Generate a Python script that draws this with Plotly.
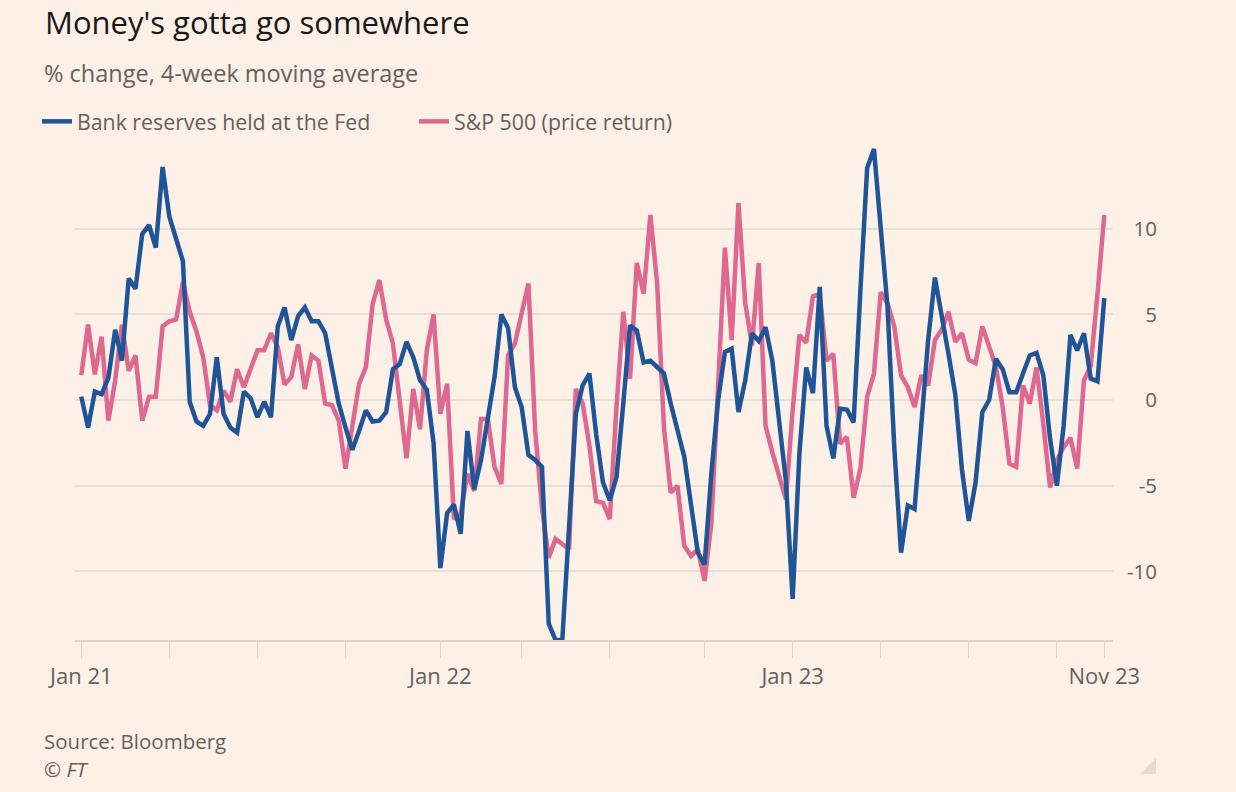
import pandas as pd
import plotly.graph_objects as go

# ---------------- data (weekly, % change, 4-week moving average) ----------------
start_date = "2021-01-01"

reserves_2021 = [0.2, -1.6, 0.5, 0.35, 1.3, 4.1, 2.3, 7.1, 6.5, 9.7, 10.2, 8.9, 13.6,
                 10.7, 9.4, 8.1, -0.1, -1.25, -1.5, -0.8, 2.5, -0.8, -1.6, -1.9, 0.5,
                 0.1, -1.0, -0.1, -1.0, 4.3, 5.4, 3.5, 4.9, 5.4, 4.6, 4.6, 3.9, 1.9,
                 -0.2, -1.6, -2.9, -1.8, -0.6, -1.25, -1.2, -0.7, 1.8, 2.1, 3.4, 2.5,
                 1.15, 0.6, -2.5]
reserves_2022 = [-9.8, -6.6, -6.1, -7.8, -1.8, -5.2, -3.5, -1.0, 1.35, 5.0, 4.2, 0.75,
                 -0.4, -3.2, -3.5, -3.9, -13.05, -14.0, -14.0, -7.4, -0.8, 0.85, 1.55,
                 -2.0, -4.8, -5.85, -4.5, -0.2, 4.35, 4.05, 2.2, 2.3, 1.9, 1.55, -0.2,
                 -1.8, -3.3, -6.1, -8.9, -9.6, -4.3, 0.0, 2.8, 3.0, -0.7, 1.15, 3.9,
                 3.45, 4.25, 2.3, -1.4, -4.7]
reserves_2023 = [-11.6, -3.1, 1.9, 0.4, 6.6, -1.5, -3.4, -0.5, -0.55, -1.3, 6.4, 13.55,
                 14.65, 10.3, 5.45, -2.75, -8.9, -6.15, -6.35, -1.4, 3.5, 7.15, 5.05,
                 2.7, 0.35, -4.1, -7.05, -4.8, -0.7, 0.0, 2.4, 1.8, 0.45, 0.45, 1.55,
                 2.6, 2.75, 1.45, -2.25, -5.0, -1.5, 3.8, 2.9, 3.9, 1.25, 1.1, 5.95]

sp500_2021 = [1.45, 4.4, 1.5, 3.7, -1.2, 1.15, 4.4, 1.7, 2.6, -1.2, 0.2, 0.2, 4.3, 4.6,
              4.7, 6.9, 5.15, 4.0, 2.5, -0.3, -0.6, 0.55, -0.1, 1.8, 0.75, 1.9, 2.9,
              2.9, 3.9, 3.1, 0.9, 1.35, 3.25, 0.65, 2.6, 2.3, -0.2, -0.3, -1.2, -4.0,
              -1.6, 0.95, 1.9, 5.6, 7.0, 4.7, 3.3, -0.1, -3.4, 0.65, -1.7, 2.9, 5.0]
sp500_2022 = [-0.8, 0.95, -6.95, -6.6, -4.3, -5.3, -1.1, -1.1, -3.9, -4.9, 2.6, 3.3,
              5.05, 6.8, -1.8, -6.3, -9.2, -8.1, -8.4, -8.7, 0.65, -0.2, -2.65, -5.9,
              -6.0, -6.95, -0.4, 5.15, 1.25, 8.0, 6.2, 10.8, 6.8, -1.6, -5.4, -5.0,
              -8.5, -9.1, -8.7, -10.55, -7.2, 1.55, 8.9, 3.5, 11.5, 5.65, 3.2, 8.0,
              -1.5, -3.05, -4.5, -5.8]
sp500_2023 = [-0.6, 3.8, 3.35, 6.05, 6.2, 2.3, 2.7, -2.55, -2.15, -5.7, -4.0, 0.2, 1.55,
              6.3, 5.65, 4.3, 1.45, 0.75, -0.4, 1.45, 0.85, 3.5, 4.1, 5.15, 3.4, 3.9,
              2.35, 2.15, 4.3, 3.1, 1.95, -0.4, -3.7, -3.9, 0.85, -0.2, 1.9, -1.4,
              -5.1, -3.5, -2.75, -2.2, -4.0, 1.15, 2.0, 6.2, 10.8]

tick_index = [0, 13, 26, 39, 53, 65, 78, 92, 105, 118, 131, 144, 151]
tick_labels = ["Jan 21", "", "", "", "Jan 22", "", "", "", "Jan 23", "", "", "", "Nov 23"]
y_ticks = [-10, -5, 0, 5, 10]

series_names = ["Bank reserves held at the Fed", "S&P 500 (price return)"]

# ---------------- build ----------------
reserves = reserves_2021 + reserves_2022 + reserves_2023
sp500 = sp500_2021 + sp500_2022 + sp500_2023
dates = pd.date_range(start_date, periods=len(reserves), freq="7D")

BG = "#FDF0E7"
BLUE = "#1F5596"
PINK = "#DE6890"
GRID = "#E8DFD7"
AXIS = "#DDD4CC"
GRAY = "#66605C"
BLACK = "#1A1817"
FONT = "Open Sans"

W, H = 1236, 792
L, R, T, B = 75, 60, 143, 152
PW = W - L - R
PH = H - T - B


def px_x(x):
    return (x - L) / PW


def px_y(y):
    return (H - B - y) / PH


fig = go.Figure()
fig.add_trace(go.Scatter(x=dates, y=sp500, name=series_names[1], mode="lines",
                         line=dict(color=PINK, width=4.5), legendrank=2,
                         hoverinfo="skip"))
fig.add_trace(go.Scatter(x=dates, y=reserves, name=series_names[0], mode="lines",
                         line=dict(color=BLUE, width=4.5), legendrank=1,
                         hoverinfo="skip"))

x_start = dates[0] - pd.Timedelta(days=6.5)
x_end = dates[-1] + pd.Timedelta(days=9)

fig.update_layout(
    width=W, height=H,
    margin=dict(l=L, r=R, t=T, b=B, autoexpand=False),
    paper_bgcolor=BG, plot_bgcolor=BG,
    font=dict(family=FONT, color=GRAY, size=20),
    showlegend=True,
    legend=dict(orientation="h", xref="container", yref="container",
                x=37 / W, y=1 - 101 / H, xanchor="left", yanchor="top",
                font=dict(size=21.3, color=GRAY), bgcolor="rgba(0,0,0,0)",
                traceorder="normal", itemwidth=30,
                entrywidth=332, entrywidthmode="pixels"),
    xaxis=dict(type="date", range=[x_start, x_end], domain=[0, (1113 - L) / PW],
               tickvals=[dates[i] for i in tick_index], ticktext=tick_labels,
               ticks="outside", ticklen=16, tickcolor=AXIS, tickwidth=1,
               showline=True, linecolor=AXIS, linewidth=2,
               showgrid=False, zeroline=False,
               tickfont=dict(size=22, color=GRAY), fixedrange=True),
    yaxis=dict(range=[-14, 15], tickvals=y_ticks,
               ticktext=[str(v) for v in y_ticks],
               anchor="free", position=px_x(1157), side="left",
               showgrid=True, gridcolor=GRID, gridwidth=1.5,
               zeroline=False, showline=False, ticks="",
               tickfont=dict(size=20.5, color=GRAY), automargin=False,
               fixedrange=True),
)

fig.add_annotation(text="Money's gotta go somewhere", xref="paper", yref="paper",
                   x=px_x(43), y=px_y(22.5), xanchor="left", yanchor="middle",
                   showarrow=False, font=dict(size=31, color=BLACK, family=FONT))
fig.add_annotation(text="% change, 4-week moving average", xref="paper", yref="paper",
                   x=px_x(42), y=px_y(73), xanchor="left", yanchor="middle",
                   showarrow=False, font=dict(size=23.5, color=GRAY, family=FONT))
fig.add_annotation(text="Source: Bloomberg", xref="paper", yref="paper",
                   x=px_x(42), y=px_y(741), xanchor="left", yanchor="middle",
                   showarrow=False, font=dict(size=20.5, color=GRAY, family=FONT))
fig.add_annotation(text="<i>© FT</i>", xref="paper", yref="paper",
                   x=px_x(42), y=px_y(769), xanchor="left", yanchor="middle",
                   showarrow=False, font=dict(size=20.5, color=GRAY, family=FONT))

# small resize-handle triangle at bottom right
tx0, tx1, ty0, ty1 = px_x(1140), px_x(1156), px_y(774), px_y(758)
fig.add_shape(type="path", xref="paper", yref="paper",
              path=f"M {tx0} {ty0} L {tx1} {ty0} L {tx1} {ty1} Z",
              fillcolor="#E3DCD5", line=dict(width=0))

fig.write_html("out.html")
